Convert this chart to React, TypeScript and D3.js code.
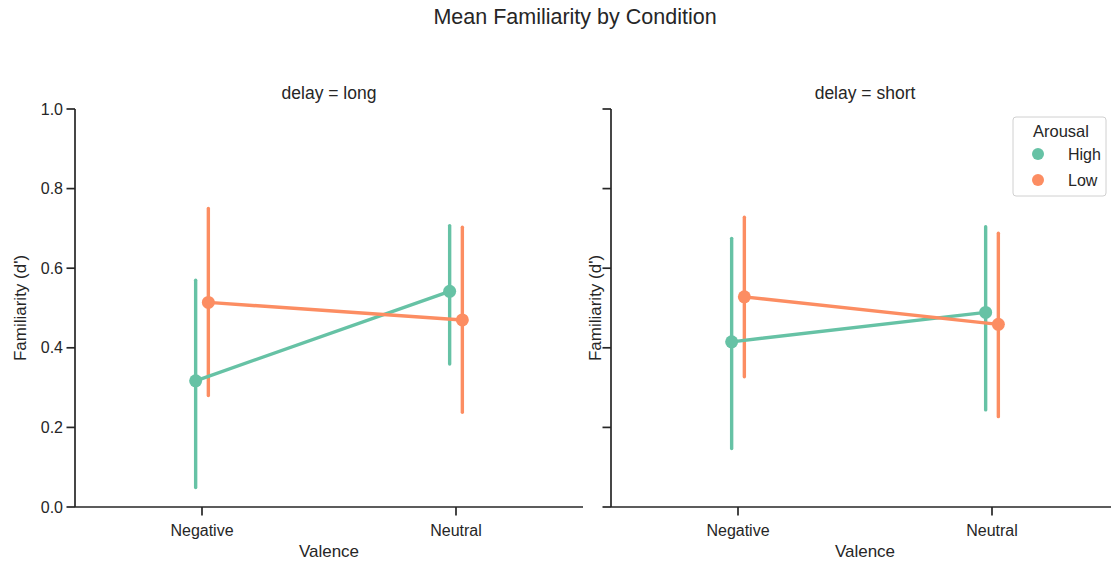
import React from "react";
import * as d3 from "d3";

// Categories
const valenceLevels = ["Negative", "Neutral"];
const delayLevels = ["long", "short"];
const arousalLevels = ["High", "Low"];
const yTicks = [0, 0.2, 0.4, 0.6, 0.8, 1.0];

// delay = long
const longHighMean = [0.317, 0.542];
const longHighLower = [0.049, 0.359];
const longHighUpper = [0.570, 0.707];
const longLowMean = [0.514, 0.470];
const longLowLower = [0.280, 0.238];
const longLowUpper = [0.750, 0.703];

// delay = short
const shortHighMean = [0.415, 0.489];
const shortHighLower = [0.147, 0.244];
const shortHighUpper = [0.675, 0.704];
const shortLowMean = [0.528, 0.459];
const shortLowLower = [0.327, 0.227];
const shortLowUpper = [0.728, 0.688];

const palette = ["#66c2a5", "#fc8d62"];

type Series = { mean: number[]; lower: number[]; upper: number[] };
const panels: { delay: string; series: Series[] }[] = [
  {
    delay: delayLevels[0],
    series: [
      { mean: longHighMean, lower: longHighLower, upper: longHighUpper },
      { mean: longLowMean, lower: longLowLower, upper: longLowUpper },
    ],
  },
  {
    delay: delayLevels[1],
    series: [
      { mean: shortHighMean, lower: shortHighLower, upper: shortHighUpper },
      { mean: shortLowMean, lower: shortLowLower, upper: shortLowUpper },
    ],
  },
];

const W = 1111;
const H = 562;
const FONT = "'Liberation Sans', Arial, Helvetica, sans-serif";
const INK = "#262626";

const panelLeft = [75, 611];
const panelWidth = 508;
const plotTop = 109;
const plotBottom = 507;
const dodge = 0.05;

export default function App() {
  const y = d3.scaleLinear().domain([0, 1]).range([plotBottom, plotTop]);
  const line = d3.line<[number, number]>();

  return (
    <svg
      width={W}
      height={H}
      style={{ position: "absolute", left: 0, top: 0, background: "#fff" }}
      fontFamily={FONT}
    >
      <text x={575} y={24} textAnchor="middle" fontSize={21.5} fill={INK}>
        Mean Familiarity by Condition
      </text>

      {panels.map((panel, pi) => {
        const x0 = panelLeft[pi];
        const x = d3
          .scalePoint<string>()
          .domain(valenceLevels)
          .range([x0, x0 + panelWidth])
          .padding(0.5);
        const step = x.step();
        const offsets = arousalLevels.map(
          (_, hi) => (hi / (arousalLevels.length - 1) - 0.5) * dodge * step
        );
        return (
          <g key={panel.delay}>
            {/* facet title */}
            <text
              x={x0 + panelWidth / 2}
              y={99}
              textAnchor="middle"
              fontSize={17.5}
              fill={INK}
            >
              {`delay = ${panel.delay}`}
            </text>

            {/* y axis */}
            <line x1={x0} x2={x0} y1={plotTop} y2={plotBottom} stroke={INK} strokeWidth={1.7} />
            {yTicks.map((t) => (
              <g key={t}>
                <line x1={x0 - 8.5} x2={x0} y1={y(t)} y2={y(t)} stroke={INK} strokeWidth={1.7} />
                {pi === 0 && (
                  <text
                    x={x0 - 12}
                    y={y(t)}
                    dy="0.35em"
                    textAnchor="end"
                    fontSize={16}
                    fill={INK}
                  >
                    {d3.format(".1f")(t)}
                  </text>
                )}
              </g>
            ))}
            <text
              transform={`translate(${pi === 0 ? 20 : x0 - 16},${(plotTop + plotBottom) / 2}) rotate(-90)`}
              textAnchor="middle"
              dy="0.35em"
              fontSize={17}
              fill={INK}
            >
              Familiarity (d')
            </text>

            {/* x axis */}
            <line x1={x0} x2={x0 + panelWidth} y1={plotBottom} y2={plotBottom} stroke={INK} strokeWidth={1.7} />
            {valenceLevels.map((v) => (
              <g key={v}>
                <line x1={x(v)!} x2={x(v)!} y1={plotBottom} y2={plotBottom + 8.5} stroke={INK} strokeWidth={1.7} />
                <text x={x(v)!} y={530} dy="0.35em" textAnchor="middle" fontSize={16} fill={INK}>
                  {v}
                </text>
              </g>
            ))}
            <text x={x0 + panelWidth / 2} y={551} dy="0.35em" textAnchor="middle" fontSize={17} fill={INK}>
              Valence
            </text>

            {/* confidence intervals */}
            {panel.series.map((s, hi) =>
              valenceLevels.map((v, vi) => (
                <line
                  key={`ci-${hi}-${v}`}
                  x1={x(v)! + offsets[hi]}
                  x2={x(v)! + offsets[hi]}
                  y1={y(s.lower[vi])}
                  y2={y(s.upper[vi])}
                  stroke={palette[hi]}
                  strokeWidth={3.4}
                  strokeLinecap="round"
                />
              ))
            )}

            {/* point estimates joined by lines */}
            {panel.series.map((s, hi) => {
              const pts: [number, number][] = valenceLevels.map((v, vi) => [
                x(v)! + offsets[hi],
                y(s.mean[vi]),
              ]);
              return (
                <g key={`pt-${hi}`}>
                  <path
                    d={line(pts) ?? ""}
                    fill="none"
                    stroke={palette[hi]}
                    strokeWidth={3.4}
                    strokeLinecap="round"
                  />
                  {pts.map(([px, py], k) => (
                    <circle key={k} cx={px} cy={py} r={6.5} fill={palette[hi]} />
                  ))}
                </g>
              );
            })}
          </g>
        );
      })}

      {/* legend */}
      <g>
        <rect
          x={1013}
          y={117}
          width={93}
          height={79}
          rx={3}
          fill="#fff"
          fillOpacity={0.8}
          stroke="#d0d0d0"
          strokeWidth={1}
        />
        <text x={1061} y={131} dy="0.35em" textAnchor="middle" fontSize={16.5} fill={INK}>
          Arousal
        </text>
        {arousalLevels.map((a, i) => (
          <g key={a}>
            <circle cx={1038} cy={154 + i * 26} r={6} fill={palette[i]} />
            <text x={1068} y={154 + i * 26} dy="0.35em" fontSize={16} fill={INK}>
              {a}
            </text>
          </g>
        ))}
      </g>
    </svg>
  );
}
